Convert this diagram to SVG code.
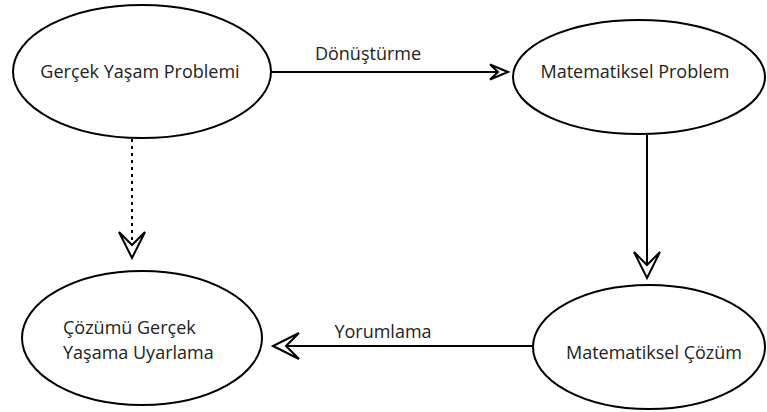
<svg xmlns="http://www.w3.org/2000/svg" width="767" height="412" viewBox="0 0 767 412">
<style>
.node ellipse{fill:#fff;stroke:#000;stroke-width:2}
.lbl{font-family:"Open Sans","Noto Sans","Liberation Sans",sans-serif;font-size:18px;fill:#222}
.edge{stroke:#000;stroke-width:2;fill:none}
</style>
<defs>
<marker id="big" markerUnits="userSpaceOnUse" markerWidth="32" markerHeight="32" refX="29" refY="15" orient="auto" overflow="visible">
<path d="M29,15 L3,2 L16,15 L3,28 Z" fill="#fff" stroke="#000" stroke-width="2" stroke-linejoin="miter"/>
</marker>
<marker id="small" markerUnits="userSpaceOnUse" markerWidth="24" markerHeight="20" refX="20" refY="9" orient="auto" overflow="visible">
<path d="M20,9 L2,1.5 L10,9 L2,16.5 Z" fill="#fff" stroke="#000" stroke-width="2"/>
</marker>
</defs>
<rect width="767" height="412" fill="#fff"/>
<g id="connectors">
<line class="edge" x1="272" y1="72" x2="508" y2="72" marker-end="url(#small)"/>
<line class="edge" x1="647" y1="135" x2="647" y2="278" marker-end="url(#big)"/>
<line class="edge" x1="532" y1="346" x2="273" y2="346" marker-end="url(#big)"/>
<line class="edge" x1="132" y1="139" x2="132" y2="258" stroke-dasharray="3,4" marker-end="url(#big)"/>
<text class="lbl" x="368" y="60" text-anchor="middle">Dönüştürme</text>
<text class="lbl" x="383" y="338" text-anchor="middle">Yorumlama</text>
</g>
<g id="n1" class="node">
<ellipse cx="142" cy="71.5" rx="129" ry="66.5"/>
<text class="lbl" x="140" y="78" text-anchor="middle">Gerçek Yaşam Problemi</text>
</g>
<g id="n2" class="node">
<ellipse cx="639" cy="77" rx="126" ry="57"/>
<text class="lbl" x="635" y="78" text-anchor="middle">Matematiksel Problem</text>
</g>
<g id="n3" class="node">
<ellipse cx="142" cy="338" rx="120" ry="67"/>
<text class="lbl" x="63" y="334">Çözümü Gerçek</text>
<text class="lbl" x="63" y="359">Yaşama Uyarlama</text>
</g>
<g id="n4" class="node">
<ellipse cx="649" cy="347" rx="116" ry="62"/>
<text class="lbl" x="654" y="359" text-anchor="middle">Matematiksel Çözüm</text>
</g>
</svg>
